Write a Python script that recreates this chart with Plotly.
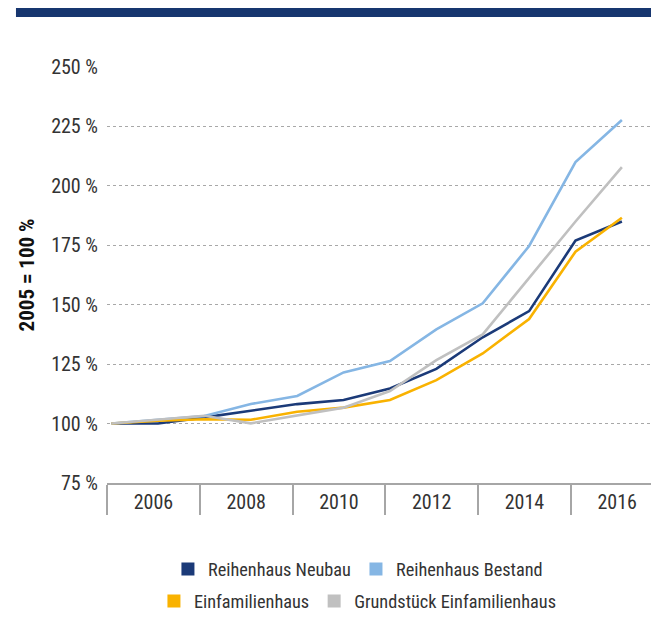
import plotly.graph_objects as go

years = list(range(2005, 2017))
reihenhaus_neubau = [100, 100, 102.6, 105.4, 108.2, 109.9, 114.8, 123.0, 136.3, 147.3, 177.0, 185.0]
reihenhaus_bestand = [100, 101.5, 103.2, 108.2, 111.6, 121.5, 126.3, 139.6, 150.6, 174.7, 210.0, 227.7]
einfamilienhaus = [100, 101.2, 101.8, 101.6, 105.0, 106.7, 109.9, 118.3, 129.5, 144.0, 172.3, 186.6]
grundstueck = [100, 101.8, 103.3, 100.1, 103.4, 106.7, 113.7, 126.7, 137.5, 161.1, 185.0, 207.9]

series_names = ["Reihenhaus Neubau", "Reihenhaus Bestand", "Einfamilienhaus", "Grundstück Einfamilienhaus"]
series_values = [reihenhaus_neubau, reihenhaus_bestand, einfamilienhaus, grundstueck]
colors = ["#1b3a78", "#85b6e4", "#f9b200", "#c0c0c0"]
legend_ids = ["legend", "legend", "legend2", "legend2"]

x_labels = ["2006", "2008", "2010", "2012", "2014", "2016"]
x_label_pos = [2005.9, 2007.9, 2009.9, 2011.9, 2013.9, 2015.9]
x_dividers = [2004.9, 2006.9, 2008.9, 2010.9, 2012.9, 2014.9]
y_ticks = [75, 100, 125, 150, 175, 200, 225, 250]
y_ticktext = [f"{v} %" for v in y_ticks]

FONT = "Roboto Condensed, Roboto, sans-serif"

fig = go.Figure()
for name, vals, col in zip(series_names, series_values, colors):
    fig.add_trace(go.Scatter(x=years, y=vals, mode="lines", name=name,
                             line=dict(color=col, width=2.6), showlegend=False,
                             hoverinfo="x+y"))
# square legend markers
for name, col, lg in zip(series_names, colors, legend_ids):
    fig.add_trace(go.Scatter(x=[None], y=[None], mode="markers", name=name,
                             marker=dict(symbol="square", size=13, color=col),
                             showlegend=True, legend=lg))

fig.update_layout(
    width=651, height=619,
    margin=dict(l=99, r=0, t=59, b=144),
    paper_bgcolor="white", plot_bgcolor="white",
    font=dict(family=FONT, size=20, color="#333333"),
    xaxis=dict(range=[2004.9, 2016.8], tickmode="array", tickvals=x_label_pos,
               ticktext=x_labels, ticks="", showgrid=False, zeroline=False,
               showline=True, linecolor="#a6a6a6", linewidth=1.5,
               tickfont=dict(size=20, color="#333333"), ticklabelstandoff=0,
               minor=dict(tickmode="array", tickvals=x_dividers, ticks="outside",
                          ticklen=30, tickcolor="#a6a6a6", tickwidth=1.5, showgrid=False)),
    yaxis=dict(range=[75, 250], tickmode="array", tickvals=y_ticks, ticktext=y_ticktext,
               showgrid=True, gridcolor="#a8a8a8", griddash="dot", gridwidth=1,
               zeroline=False, showline=False, ticks="", ticklabelstandoff=8,
               tickfont=dict(size=20, color="#333333"),
               title=dict(text="<b>2005 = 100 %</b>", font=dict(size=21, color="#111111"),
                          standoff=10)),
    legend=dict(orientation="h", x=0.4546, xanchor="center", y=-0.207, yanchor="middle",
                font=dict(size=18.3, color="#333333"), itemwidth=30, bgcolor="rgba(0,0,0,0)"),
    legend2=dict(orientation="h", x=0.4546, xanchor="center", y=-0.284, yanchor="middle",
                 font=dict(size=18.3, color="#333333"), itemwidth=30, bgcolor="rgba(0,0,0,0)"),
    shapes=[dict(type="rect", xref="paper", yref="paper", x0=-0.1649, x1=1.0,
                 y0=1.1202, y1=1.1418, fillcolor="#17366f", line=dict(width=0))],
    showlegend=True,
)

fig.write_html("out.html")
